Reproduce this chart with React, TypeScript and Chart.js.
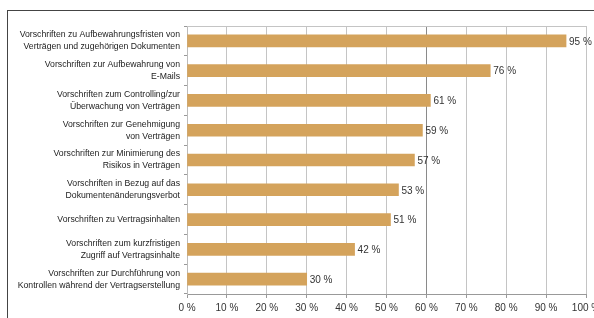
import React, { useEffect, useRef } from "react";
import { Chart, registerables } from "chart.js";

Chart.register(...registerables);

const categories: string[][] = [
  ["Vorschriften zu Aufbewahrungsfristen von", "Verträgen und zugehörigen Dokumenten"],
  ["Vorschriften zur Aufbewahrung von", "E-Mails"],
  ["Vorschriften zum Controlling/zur", "Überwachung von Verträgen"],
  ["Vorschriften zur Genehmigung", "von Verträgen"],
  ["Vorschriften zur Minimierung des", "Risikos in Verträgen"],
  ["Vorschriften in Bezug auf das", "Dokumentenänderungsverbot"],
  ["Vorschriften zu Vertragsinhalten"],
  ["Vorschriften zum kurzfristigen", "Zugriff auf Vertragsinhalte"],
  ["Vorschriften zur Durchführung von", "Kontrollen während der Vertragserstellung"],
];
const values: number[] = [95, 76, 61, 59, 57, 53, 51, 42, 30];
const xTicks: number[] = [0, 10, 20, 30, 40, 50, 60, 70, 80, 90, 100];

const FONT = "'Liberation Sans', Arial, sans-serif";

export default function App() {
  const ref = useRef<HTMLCanvasElement | null>(null);
  useEffect(() => {
    if (!ref.current) return;
    const labelPlugin = {
      id: "valueLabels",
      beforeDatasetsDraw(chart: any) {
        const { ctx, chartArea } = chart;
        ctx.save();
        ctx.strokeStyle = "#c4c4c4";
        ctx.lineWidth = 1;
        ctx.beginPath();
        ctx.moveTo(chartArea.left, chartArea.top + 0.5);
        ctx.lineTo(chartArea.right, chartArea.top + 0.5);
        ctx.stroke();
        ctx.restore();
      },
      afterDatasetsDraw(chart: any) {
        const { ctx } = chart;
        const meta = chart.getDatasetMeta(0);
        ctx.save();
        ctx.font = `10px ${FONT}`;
        ctx.fillStyle = "#333";
        ctx.textAlign = "left";
        ctx.textBaseline = "middle";
        meta.data.forEach((bar: any, i: number) => {
          ctx.fillText(`${values[i]} %`, bar.x + 3, bar.y + 1);
        });
        ctx.restore();
      },
    };
    const chart = new Chart(ref.current, {
      type: "bar",
      data: {
        labels: categories,
        datasets: [
          {
            data: values,
            backgroundColor: "#d4a35c",
            borderWidth: 0,
            barThickness: 12,
          },
        ],
      },
      options: {
        indexAxis: "y",
        responsive: false,
        animation: false,
        layout: { padding: { left: 0, right: 8, top: 26, bottom: 0 } },
        plugins: { legend: { display: false }, tooltip: { enabled: false } },
        scales: {
          x: {
            min: 0,
            max: 100,
            afterBuildTicks: (s: any) => {
              s.ticks = xTicks.map((v) => ({ value: v }));
            },
            afterFit: (s: any) => {
              s.height = 24;
              s.paddingLeft = 0;
              s.paddingRight = 0;
            },
            grid: {
              color: (c: any) => (c.tick && c.tick.value === 60 ? "#8a8a8a" : "#c4c4c4"),
              tickLength: 4,
              tickColor: "#999",
            },
            border: { color: "#999" },
            ticks: {
              padding: 4,
              color: "#333",
              font: { family: FONT, size: 10 },
              callback: (v: any) => `${v} %`,
              maxRotation: 0,
            },
          },
          y: {
            afterFit: (s: any) => {
              s.width = 187;
            },
            grid: {
              drawOnChartArea: false,
              tickLength: 3,
              tickColor: "#999",
            },
            border: { color: "#bbb" },
            ticks: {
              padding: 4,
              color: "#222",
              font: { family: FONT, size: 8.7, lineHeight: 1.38 },
              autoSkip: false,
            },
          },
        },
      },
      plugins: [labelPlugin],
    } as any);
    return () => chart.destroy();
  }, []);
  return (
    <div style={{ position: "fixed", left: 0, top: 0, width: 594, height: 318, background: "#fff" }}>
      <div
        style={{
          position: "absolute",
          left: 7,
          top: 10,
          width: 700,
          height: 400,
          borderLeft: "1px solid #444",
          borderTop: "1px solid #444",
        }}
      />
      <canvas ref={ref} width={594} height={318} style={{ position: "absolute", left: 0, top: 0 }} />
    </div>
  );
}
